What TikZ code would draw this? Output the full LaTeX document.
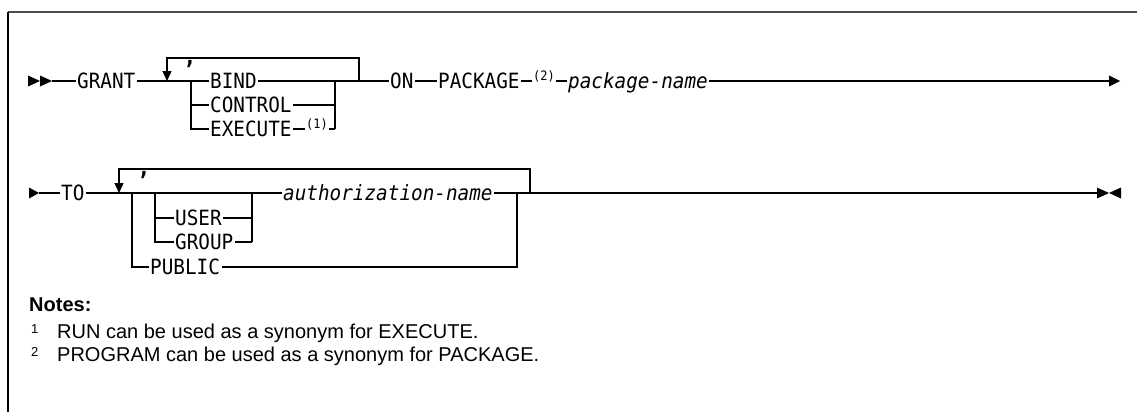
\documentclass[tikz,border=0pt]{standalone}
\usepackage{fontspec}
\setmainfont{Liberation Sans}
\newfontfamily\synfont[FakeStretch=0.92]{DejaVu Sans Mono}
\usetikzlibrary{arrows.meta}
\begin{document}
\begin{tikzpicture}[x=1pt,y=-1pt,
  ln/.style={line width=1.3pt},
  looparrow/.style={ln,-{Triangle[width=9pt,length=10pt]}},
  kw/.style={inner xsep=1.5pt, inner ysep=0pt, text height=15.3pt, text depth=0pt, anchor=west, font=\synfont\fontsize{21}{21}\selectfont},
  var/.style={kw, font=\synfont\itshape\fontsize{21}{21}\selectfont},
  supref/.style={inner xsep=1pt, inner ysep=0pt, anchor=base west, font=\synfont\fontsize{13}{13}\selectfont},
  sepcomma/.style={inner sep=0pt, anchor=north, font=\synfont\bfseries\fontsize{23}{23}\selectfont},
  note/.style={inner sep=0pt, anchor=base west, font=\fontsize{20}{24}\selectfont},
  notenum/.style={inner sep=0pt, anchor=base west, font=\fontsize{13}{13}\selectfont}]
\useasboundingbox (0,0) rectangle (1137,412);
% frame
\draw[black!70, line width=2pt] (8,12) -- (1137,12);
\draw[black, line width=1.5pt] (8,12) -- (8,412);

% ---------------- Row 1 ----------------
\fill (28,75.5) -- (40,81) -- (28,86.5) -- cycle;
\fill (40,75.5) -- (52,81) -- (40,86.5) -- cycle;
\coordinate (s1) at (52,81);
\node[kw] (grant) at (75.5,81) {GRANT};
\coordinate (l1) at (167,81);
\coordinate (l1t) at (167,58);
\coordinate (r1t) at (359,58);
\coordinate (r1) at (359,81);
\coordinate (cl1) at (191,81);
\coordinate (cl2) at (191,105);
\coordinate (cl3) at (191,129);
\coordinate (cr1) at (335,81);
\coordinate (cr2) at (335,105);
\coordinate (cr3) at (335,129);
\node[sepcomma] (comma1) at (190,60) {,};
\node[kw] (bind) at (208.5,81) {BIND};
\node[kw] (control) at (208.5,105) {CONTROL};
\node[kw] (execute) at (208.5,129) {EXECUTE};
\node[supref] (ref1) at (305,128) {(1)};
\node[kw] (on) at (388.5,81) {ON};
\node[kw] (package) at (436.5,81) {PACKAGE};
\node[supref] (ref2) at (532,80) {(2)};
\node[var] (pkgname) at (566.5,81) {package-name};
\coordinate (e1) at (1109,81);
\fill (1109,75.5) -- (1120,81) -- (1109,86.5) -- cycle;

\draw[ln] (s1) -- (grant.west);
\draw[ln] (grant.east) -- (cl1) -- (bind.west);
\draw[ln] (cl1) -- (cl3) -- (execute.west);
\draw[ln] (cl2) -- (control.west);
\draw[ln] (bind.east) -- (cr1) -- (cr3);
\draw[ln] (control.east) -- (cr2);
\draw[ln] (execute.east) -- (ref1.west |- execute.east);
\draw[ln] (ref1.east |- execute.east) -- (cr3);
\draw[ln] (cr1) -- (r1) -- (on.west);
\draw[looparrow] (r1) -- (r1t) -- (l1t) -- (l1);
\draw[ln] (on.east) -- (package.west);
\draw[ln] (package.east) -- (ref2.west |- package.east);
\draw[ln] (ref2.east |- package.east) -- (pkgname.west);
\draw[ln] (pkgname.east) -- (e1);

% ---------------- Row 2 ----------------
\fill (29,187.5) -- (39,193) -- (29,198.5) -- cycle;
\coordinate (s2) at (39,193);
\node[kw] (to) at (59.5,193) {TO};
\coordinate (l2) at (119,193);
\coordinate (l2t) at (119,169);
\coordinate (r2t) at (530,169);
\coordinate (r2) at (530,193);
\coordinate (ol1) at (132,193);
\coordinate (ol3) at (132,267);
\coordinate (il1) at (155,193);
\coordinate (il2) at (155,218);
\coordinate (il3) at (155,242);
\coordinate (ir1) at (252,193);
\coordinate (ir2) at (252,218);
\coordinate (ir3) at (252,242);
\coordinate (or1) at (517,193);
\coordinate (or3) at (517,267);
\node[sepcomma] (comma2) at (144,171) {,};
\node[kw] (user) at (173.5,218) {USER};
\node[kw] (group) at (173.5,242) {GROUP};
\node[var] (authname) at (281.5,193) {authorization-name};
\node[kw] (public) at (148.5,267) {PUBLIC};
\coordinate (e2) at (1097,193);
\fill (1097,187.5) -- (1109,193) -- (1097,198.5) -- cycle;
\fill (1121,187.5) -- (1109,193) -- (1121,198.5) -- cycle;

\draw[ln] (s2) -- (to.west);
\draw[ln] (to.east) -- (ol1) -- (il1) -- (ir1) -- (authname.west);
\draw[ln] (ol1) -- (ol3) -- (public.west);
\draw[ln] (public.east) -- (or3) -- (or1);
\draw[ln] (il1) -- (il3) -- (group.west);
\draw[ln] (il2) -- (user.west);
\draw[ln] (user.east) -- (ir2);
\draw[ln] (group.east) -- (ir3);
\draw[ln] (ir1) -- (ir3);
\draw[ln] (authname.east) -- (or1) -- (r2) -- (e2);
\draw[looparrow] (r2) -- (r2t) -- (l2t) -- (l2);

% ---------------- Notes ----------------
\node[note] (notes) at (29,311) {\bfseries Notes:};
\node[notenum] (n1num) at (31,333) {1};
\node[note] (n1) at (57,338) {RUN can be used as a synonym for EXECUTE.};
\node[notenum] (n2num) at (31,356) {2};
\node[note] (n2) at (57,361) {PROGRAM can be used as a synonym for PACKAGE.};
\end{tikzpicture}
\end{document}
